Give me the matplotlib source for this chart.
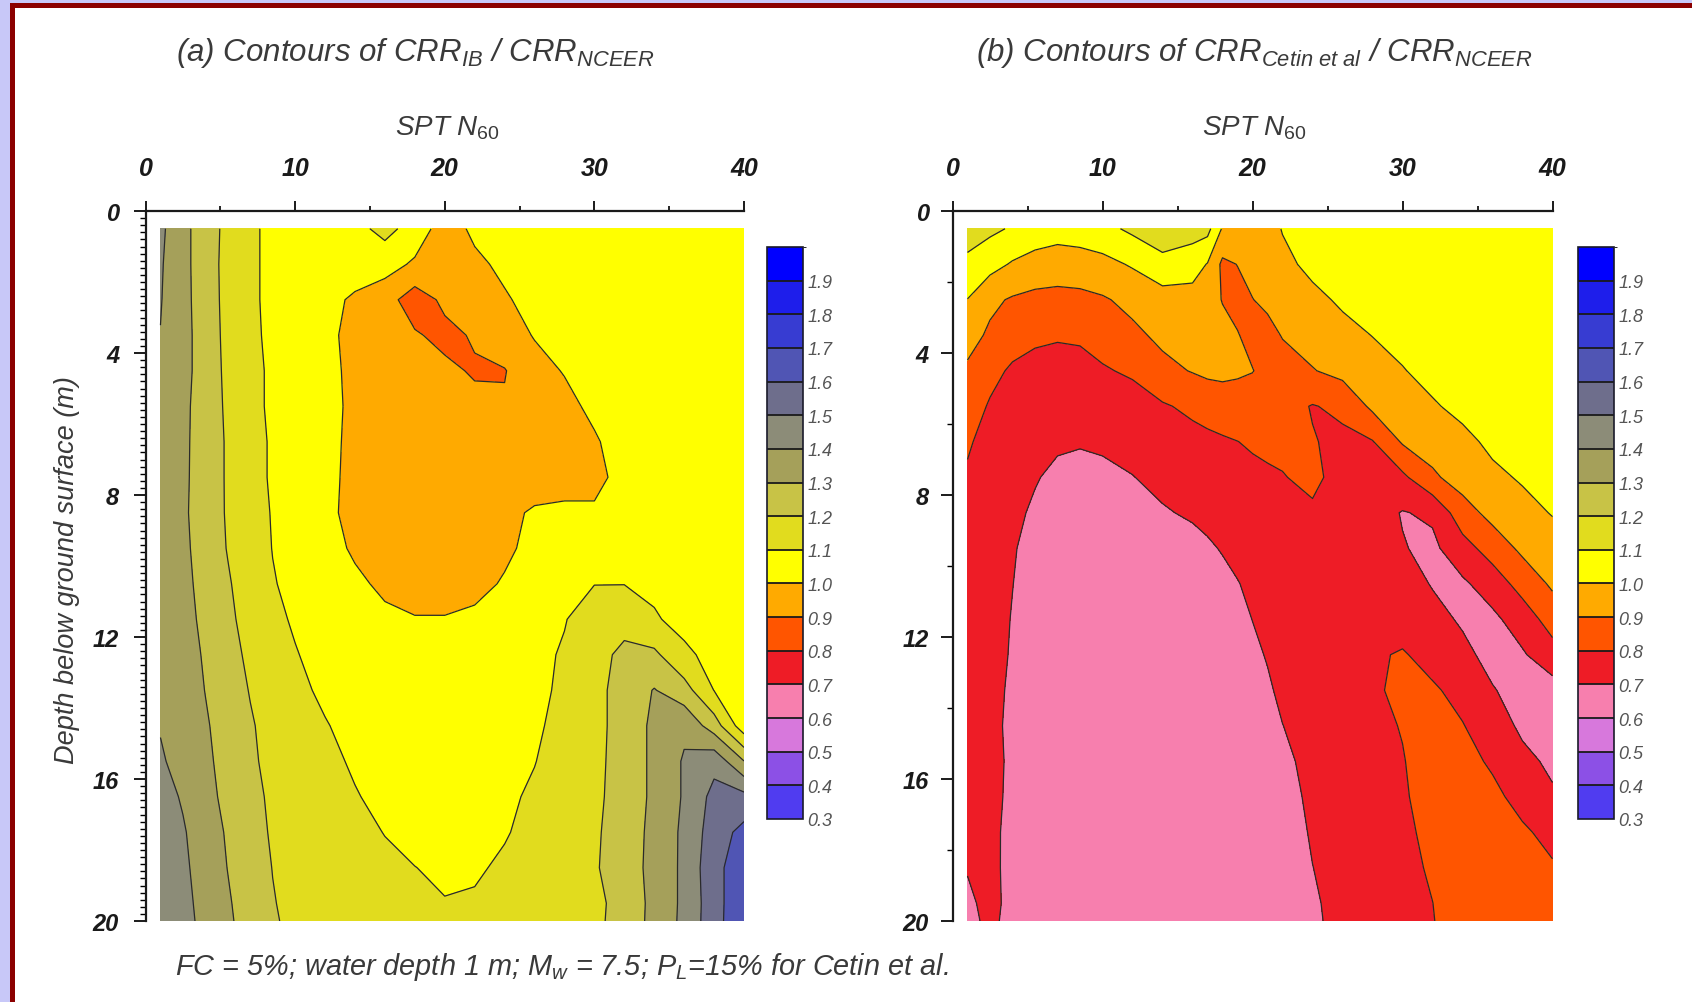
import numpy as np
import matplotlib.pyplot as plt
from matplotlib.colors import ListedColormap, BoundaryNorm
from matplotlib.ticker import MultipleLocator
from matplotlib.patches import Rectangle

plt.rcParams['font.family'] = ['Liberation Sans', 'DejaVu Sans']
plt.rcParams['mathtext.fontset'] = 'custom'
plt.rcParams['mathtext.it'] = 'Liberation Sans:italic'
plt.rcParams['mathtext.rm'] = 'Liberation Sans'

# contour levels and the colour of each band (0.3-0.4 ... 1.9-2.0)
levels = [0.3, 0.4, 0.5, 0.6, 0.7, 0.8, 0.9, 1.0, 1.1, 1.2, 1.3, 1.4, 1.5, 1.6, 1.7, 1.8, 1.9, 2.0]
band_colors = ['#503cf0', '#8c50e6', '#d778dc', '#f77fae', '#ee1c26', '#ff5500', '#ffaa00',
               '#ffff00', '#e1dc1e', '#c8c346', '#a5a05a', '#8c8c78', '#6e6e8c', '#5055b4',
               '#373cd2', '#1e1eeb', '#0000ff']
cbar_labels = ['0.3', '0.4', '0.5', '0.6', '0.7', '0.8', '0.9', '1.0', '1.1', '1.2',
               '1.3', '1.4', '1.5', '1.6', '1.7', '1.8', '1.9']

# depth below ground surface (m), rows of both grids
depth = [0.5, 1.5, 2.5, 3.5, 4.5, 5.5, 6.5, 7.5, 8.5, 9.5, 10.5,
         11.5, 12.5, 13.5, 14.5, 15.5, 16.5, 17.5, 18.5, 19.5, 20]

# (a) CRR_IB / CRR_NCEER
n60_a = [1, 2.5, 4, 5.5, 7, 8.5, 10, 12, 14, 16, 18, 20, 22, 24, 26, 28, 30, 32, 34, 36, 38, 40]
ratio_ib = [
    [1.42, 1.33, 1.245, 1.175, 1.115, 1.08, 1.06, 1.06, 1.07, 1.13, 1.06, 0.95, 1.02, 1.03, 1.04, 1.045, 1.05, 1.05, 1.05, 1.05, 1.05, 1.05],
    [1.41, 1.33, 1.245, 1.17, 1.115, 1.08, 1.06, 1.05, 1.05, 1.04, 0.985, 0.95, 0.98, 1.02, 1.04, 1.045, 1.05, 1.05, 1.05, 1.05, 1.05, 1.05],
    [1.405, 1.33, 1.25, 1.17, 1.115, 1.08, 1.05, 1.03, 0.985, 0.94, 0.85, 0.92, 0.95, 0.99, 1.03, 1.045, 1.05, 1.05, 1.05, 1.05, 1.05, 1.05],
    [1.398, 1.335, 1.25, 1.175, 1.12, 1.08, 1.05, 1.025, 0.97, 0.94, 0.91, 0.875, 0.91, 0.96, 1.005, 1.04, 1.05, 1.05, 1.05, 1.05, 1.05, 1.05],
    [1.39, 1.335, 1.25, 1.18, 1.125, 1.085, 1.06, 1.03, 0.975, 0.95, 0.935, 0.92, 0.89, 0.895, 0.97, 1.005, 1.04, 1.05, 1.05, 1.05, 1.05, 1.05],
    [1.385, 1.325, 1.25, 1.185, 1.125, 1.085, 1.06, 1.03, 0.98, 0.955, 0.94, 0.935, 0.925, 0.91, 0.955, 0.975, 1.02, 1.05, 1.05, 1.05, 1.05, 1.05],
    [1.38, 1.322, 1.25, 1.19, 1.13, 1.09, 1.065, 1.03, 0.975, 0.955, 0.95, 0.95, 0.95, 0.95, 0.955, 0.965, 0.99, 1.04, 1.05, 1.05, 1.05, 1.05],
    [1.375, 1.32, 1.25, 1.19, 1.13, 1.09, 1.065, 1.025, 0.975, 0.955, 0.95, 0.95, 0.95, 0.955, 0.96, 0.97, 0.98, 1.024, 1.045, 1.05, 1.05, 1.05],
    [1.375, 1.315, 1.255, 1.19, 1.135, 1.095, 1.07, 1.02, 0.975, 0.955, 0.95, 0.95, 0.96, 0.98, 1.01, 1.015, 1.01, 1.04, 1.05, 1.05, 1.045, 1.045],
    [1.375, 1.32, 1.26, 1.195, 1.14, 1.098, 1.075, 1.04, 0.985, 0.96, 0.955, 0.955, 0.96, 0.98, 1.03, 1.06, 1.08, 1.075, 1.06, 1.05, 1.04, 1.04],
    [1.375, 1.325, 1.27, 1.21, 1.15, 1.105, 1.08, 1.05, 1.02, 0.98, 0.96, 0.96, 0.97, 1.01, 1.05, 1.08, 1.098, 1.098, 1.08, 1.06, 1.05, 1.045],
    [1.375, 1.33, 1.28, 1.22, 1.165, 1.12, 1.09, 1.06, 1.04, 1.02, 1.005, 1.005, 1.02, 1.04, 1.07, 1.095, 1.15, 1.17, 1.11, 1.07, 1.05, 1.04],
    [1.38, 1.34, 1.29, 1.235, 1.18, 1.135, 1.105, 1.07, 1.05, 1.035, 1.03, 1.03, 1.035, 1.05, 1.075, 1.11, 1.17, 1.22, 1.22, 1.12, 1.07, 1.05],
    [1.385, 1.35, 1.298, 1.25, 1.195, 1.15, 1.12, 1.085, 1.06, 1.045, 1.04, 1.04, 1.045, 1.06, 1.08, 1.115, 1.17, 1.24, 1.305, 1.24, 1.098, 1.05],
    [1.395, 1.36, 1.31, 1.26, 1.21, 1.165, 1.135, 1.105, 1.075, 1.06, 1.05, 1.05, 1.055, 1.07, 1.09, 1.12, 1.17, 1.24, 1.32, 1.38, 1.25, 1.04],
    [1.41, 1.37, 1.32, 1.265, 1.215, 1.175, 1.145, 1.12, 1.09, 1.07, 1.06, 1.06, 1.065, 1.08, 1.098, 1.13, 1.175, 1.24, 1.32, 1.41, 1.47, 1.302],
    [1.44, 1.39, 1.33, 1.275, 1.225, 1.185, 1.155, 1.13, 1.105, 1.08, 1.068, 1.065, 1.07, 1.088, 1.11, 1.14, 1.18, 1.24, 1.32, 1.41, 1.53, 1.53],
    [1.46, 1.41, 1.345, 1.29, 1.235, 1.19, 1.165, 1.145, 1.12, 1.098, 1.08, 1.075, 1.08, 1.095, 1.12, 1.15, 1.185, 1.25, 1.325, 1.42, 1.55, 1.63],
    [1.47, 1.42, 1.355, 1.298, 1.245, 1.198, 1.17, 1.155, 1.135, 1.115, 1.101, 1.088, 1.092, 1.11, 1.13, 1.155, 1.19, 1.25, 1.33, 1.42, 1.57, 1.66],
    [1.48, 1.43, 1.365, 1.31, 1.255, 1.205, 1.175, 1.16, 1.145, 1.13, 1.112, 1.103, 1.107, 1.125, 1.14, 1.16, 1.18, 1.23, 1.33, 1.42, 1.56, 1.68],
    [1.48, 1.435, 1.37, 1.315, 1.26, 1.21, 1.178, 1.163, 1.15, 1.135, 1.12, 1.11, 1.115, 1.13, 1.145, 1.163, 1.182, 1.232, 1.332, 1.422, 1.562, 1.682],
]

# (b) CRR_Cetin et al / CRR_NCEER
n60_b = [1, 2.5, 4, 5.5, 7, 8.5, 10, 12, 14, 16, 17, 18, 19, 20, 21, 22, 24, 26, 28, 30, 32, 34, 36, 38, 40]
ratio_cetin = [
    [1.14, 1.12, 1.09, 1.06, 1.04, 1.05, 1.07, 1.12, 1.16, 1.14, 1.13, 0.99, 0.94, 0.93, 0.96, 1.005, 1.04, 1.05, 1.05, 1.05, 1.05, 1.05, 1.05, 1.05, 1.05],
    [1.08, 1.035, 0.99, 0.96, 0.95, 0.955, 0.97, 1.01, 1.07, 1.045, 0.995, 0.88, 0.902, 0.93, 0.95, 0.975, 1.025, 1.05, 1.05, 1.05, 1.05, 1.05, 1.05, 1.05, 1.05],
    [0.998, 0.92, 0.89, 0.875, 0.87, 0.875, 0.89, 0.925, 0.955, 0.96, 0.95, 0.895, 0.87, 0.898, 0.92, 0.94, 0.975, 1.015, 1.04, 1.05, 1.05, 1.05, 1.05, 1.05, 1.05],
    [0.935, 0.885, 0.845, 0.82, 0.81, 0.815, 0.84, 0.88, 0.92, 0.94, 0.945, 0.935, 0.905, 0.87, 0.87, 0.905, 0.94, 0.97, 1.002, 1.03, 1.045, 1.05, 1.05, 1.05, 1.05],
    [0.885, 0.83, 0.785, 0.765, 0.76, 0.765, 0.79, 0.815, 0.875, 0.905, 0.92, 0.925, 0.915, 0.903, 0.87, 0.86, 0.895, 0.93, 0.96, 0.995, 1.03, 1.045, 1.05, 1.05, 1.05],
    [0.85, 0.79, 0.75, 0.73, 0.725, 0.72, 0.73, 0.755, 0.79, 0.82, 0.835, 0.845, 0.85, 0.85, 0.845, 0.835, 0.795, 0.82, 0.92, 0.955, 0.99, 1.025, 1.045, 1.05, 1.05],
    [0.81, 0.77, 0.735, 0.715, 0.71, 0.705, 0.71, 0.725, 0.75, 0.77, 0.78, 0.79, 0.799, 0.81, 0.815, 0.815, 0.805, 0.78, 0.795, 0.91, 0.94, 0.975, 1.02, 1.045, 1.05],
    [0.79, 0.76, 0.73, 0.705, 0.685, 0.68, 0.685, 0.698, 0.72, 0.74, 0.75, 0.76, 0.77, 0.78, 0.79, 0.797, 0.815, 0.775, 0.765, 0.78, 0.885, 0.94, 0.98, 1.01, 1.035],
    [0.77, 0.745, 0.715, 0.69, 0.67, 0.66, 0.66, 0.67, 0.693, 0.71, 0.72, 0.73, 0.74, 0.75, 0.76, 0.78, 0.79, 0.775, 0.74, 0.695, 0.715, 0.86, 0.93, 0.97, 1.005],
    [0.76, 0.735, 0.705, 0.68, 0.66, 0.65, 0.645, 0.65, 0.66, 0.675, 0.69, 0.705, 0.72, 0.73, 0.74, 0.75, 0.76, 0.755, 0.73, 0.705, 0.68, 0.76, 0.845, 0.92, 0.96],
    [0.755, 0.73, 0.701, 0.675, 0.655, 0.645, 0.64, 0.64, 0.645, 0.655, 0.665, 0.68, 0.697, 0.715, 0.73, 0.74, 0.755, 0.76, 0.75, 0.735, 0.695, 0.685, 0.745, 0.84, 0.915],
    [0.75, 0.725, 0.697, 0.672, 0.655, 0.645, 0.64, 0.638, 0.64, 0.648, 0.655, 0.665, 0.68, 0.701, 0.715, 0.73, 0.75, 0.76, 0.76, 0.75, 0.725, 0.69, 0.68, 0.745, 0.845],
    [0.745, 0.72, 0.695, 0.67, 0.655, 0.645, 0.64, 0.638, 0.638, 0.643, 0.648, 0.655, 0.667, 0.685, 0.705, 0.72, 0.745, 0.765, 0.785, 0.81, 0.76, 0.72, 0.675, 0.69, 0.758],
    [0.74, 0.715, 0.692, 0.67, 0.655, 0.645, 0.64, 0.638, 0.637, 0.64, 0.643, 0.648, 0.657, 0.67, 0.69, 0.715, 0.74, 0.76, 0.79, 0.815, 0.815, 0.765, 0.705, 0.67, 0.66],
    [0.735, 0.71, 0.692, 0.67, 0.655, 0.645, 0.64, 0.638, 0.637, 0.638, 0.64, 0.644, 0.65, 0.66, 0.675, 0.699, 0.73, 0.755, 0.775, 0.805, 0.84, 0.805, 0.74, 0.685, 0.665],
    [0.73, 0.71, 0.694, 0.67, 0.655, 0.645, 0.64, 0.638, 0.637, 0.637, 0.638, 0.64, 0.645, 0.652, 0.665, 0.685, 0.72, 0.745, 0.765, 0.795, 0.845, 0.835, 0.785, 0.72, 0.685],
    [0.725, 0.708, 0.694, 0.67, 0.655, 0.645, 0.64, 0.638, 0.637, 0.636, 0.637, 0.638, 0.641, 0.646, 0.655, 0.672, 0.715, 0.74, 0.76, 0.785, 0.85, 0.86, 0.825, 0.765, 0.71],
    [0.72, 0.707, 0.692, 0.67, 0.655, 0.645, 0.64, 0.638, 0.637, 0.636, 0.636, 0.637, 0.639, 0.642, 0.648, 0.66, 0.708, 0.735, 0.755, 0.775, 0.83, 0.87, 0.86, 0.815, 0.77],
    [0.703, 0.712, 0.686, 0.67, 0.655, 0.645, 0.64, 0.638, 0.637, 0.636, 0.636, 0.636, 0.638, 0.641, 0.645, 0.655, 0.699, 0.73, 0.75, 0.765, 0.815, 0.87, 0.875, 0.85, 0.81],
    [0.69, 0.715, 0.685, 0.67, 0.655, 0.645, 0.64, 0.638, 0.637, 0.636, 0.636, 0.636, 0.637, 0.639, 0.642, 0.65, 0.69, 0.725, 0.745, 0.765, 0.799, 0.86, 0.88, 0.875, 0.86],
    [0.685, 0.712, 0.683, 0.668, 0.655, 0.645, 0.64, 0.638, 0.637, 0.636, 0.636, 0.636, 0.637, 0.638, 0.641, 0.648, 0.688, 0.722, 0.742, 0.762, 0.795, 0.86, 0.88, 0.88, 0.87],
]

W, H = 1692, 1003
fig = plt.figure(figsize=(W / 100, H / 100), dpi=100)
fig.patch.set_facecolor('#c8c8f8')
fig.add_artist(Rectangle((10 / W, 0), 1, 1 - 4 / H, transform=fig.transFigure,
                         facecolor='#8b0000', edgecolor='none', zorder=-10))
fig.add_artist(Rectangle((15 / W, 0), 1, 1 - 9 / H, transform=fig.transFigure,
                         facecolor='white', edgecolor='none', zorder=-9))

cmap = ListedColormap(band_colors)
norm = BoundaryNorm(levels, cmap.N)
txt = '#3a3a3a'


def box(x0, y0, x1, y1):
    # pixel box (top-left origin) -> figure fraction rect
    return [x0 / W, 1 - y1 / H, (x1 - x0) / W, (y1 - y0) / H]


def panel(rect, n60, z, minor_y, ypad):
    ax = fig.add_axes(rect)
    cf = ax.contourf(n60, depth, np.array(z), levels=levels, cmap=cmap, norm=norm)
    ax.contour(n60, depth, np.array(z), levels=levels, colors='#2a2a2a', linewidths=0.9)
    ax.set_xlim(0, 40)
    ax.set_ylim(20, 0)
    ax.set_facecolor('white')
    ax.spines['right'].set_visible(False)
    ax.spines['bottom'].set_visible(False)
    for s in ('top', 'left'):
        ax.spines[s].set_linewidth(1.6)
        ax.spines[s].set_color('#1a1a1a')
    ax.xaxis.tick_top()
    ax.set_xticks([0, 10, 20, 30, 40])
    ax.xaxis.set_minor_locator(MultipleLocator(5))
    ax.set_yticks([0, 4, 8, 12, 16, 20])
    ax.yaxis.set_minor_locator(MultipleLocator(minor_y))
    ax.tick_params(axis='x', which='major', direction='out', length=7, width=1.4, pad=15.5,
                   labelsize=18, colors='#1a1a1a')
    ax.tick_params(axis='x', which='minor', direction='out', length=3.5, width=1.2)
    ax.tick_params(axis='y', which='major', direction='out', length=9, width=1.4, pad=ypad,
                   labelsize=17, colors='#1a1a1a')
    ax.tick_params(axis='y', which='minor', direction='out', length=4, width=1.0)
    for lab in ax.get_xticklabels() + ax.get_yticklabels():
        lab.set_fontstyle('italic')
        lab.set_fontweight('bold')
    return cf


def colorbar(cf, rect):
    cax = fig.add_axes(rect)
    cb = fig.colorbar(cf, cax=cax, drawedges=True)
    cb.set_ticks(levels[:-1])
    cb.set_ticklabels(cbar_labels)
    cb.outline.set_edgecolor('#1a1a2a')
    cb.outline.set_linewidth(1.2)
    cb.dividers.set_color('#1a1a1a')
    cb.dividers.set_linewidth(1.3)
    cax.tick_params(length=0, pad=3, labelsize=13, colors='#555555')
    for lab in cax.get_yticklabels():
        lab.set_fontstyle('italic')


cf_a = panel(box(145.5, 212, 744, 922), n60_a, ratio_ib, 0.2, 10)
cf_b = panel(box(952.5, 212, 1552.5, 922), n60_b, ratio_cetin, 2, 8)
colorbar(cf_a, box(767, 248, 803, 820))
colorbar(cf_b, box(1578, 248, 1614, 820))

fig.text(176 / W, 1 - 53 / H, r'(a) Contours of CRR$_{\mathit{IB}}$ / CRR$_{\mathit{NCEER}}$',
         fontsize=22.5, fontstyle='italic', color=txt, va='center', ha='left')
fig.text(976 / W, 1 - 53 / H,
         r'(b) Contours of CRR$_{\mathit{Cetin\ et\ al}}$ / CRR$_{\mathit{NCEER}}$',
         fontsize=22.5, fontstyle='italic', color=txt, va='center', ha='left')
for xc in (447, 1254):
    fig.text(xc / W, 1 - 128 / H, r'SPT N$_{\mathit{60}}$', fontsize=20, fontstyle='italic',
             color=txt, va='center', ha='center')
fig.text(67 / W, 1 - 570 / H, 'Depth below ground surface (m)', rotation=90, fontsize=19.5,
         fontstyle='italic', color=txt, va='center', ha='center')
fig.text(175 / W, 1 - 967 / H,
         r'FC = 5%; water depth 1 m; M$_{\mathit{w}}$ = 7.5; P$_{\mathit{L}}$=15% for Cetin et al.',
         fontsize=20.8, fontstyle='italic', color=txt, va='center', ha='left')

fig.savefig('out.png', dpi=100, facecolor=fig.get_facecolor())
